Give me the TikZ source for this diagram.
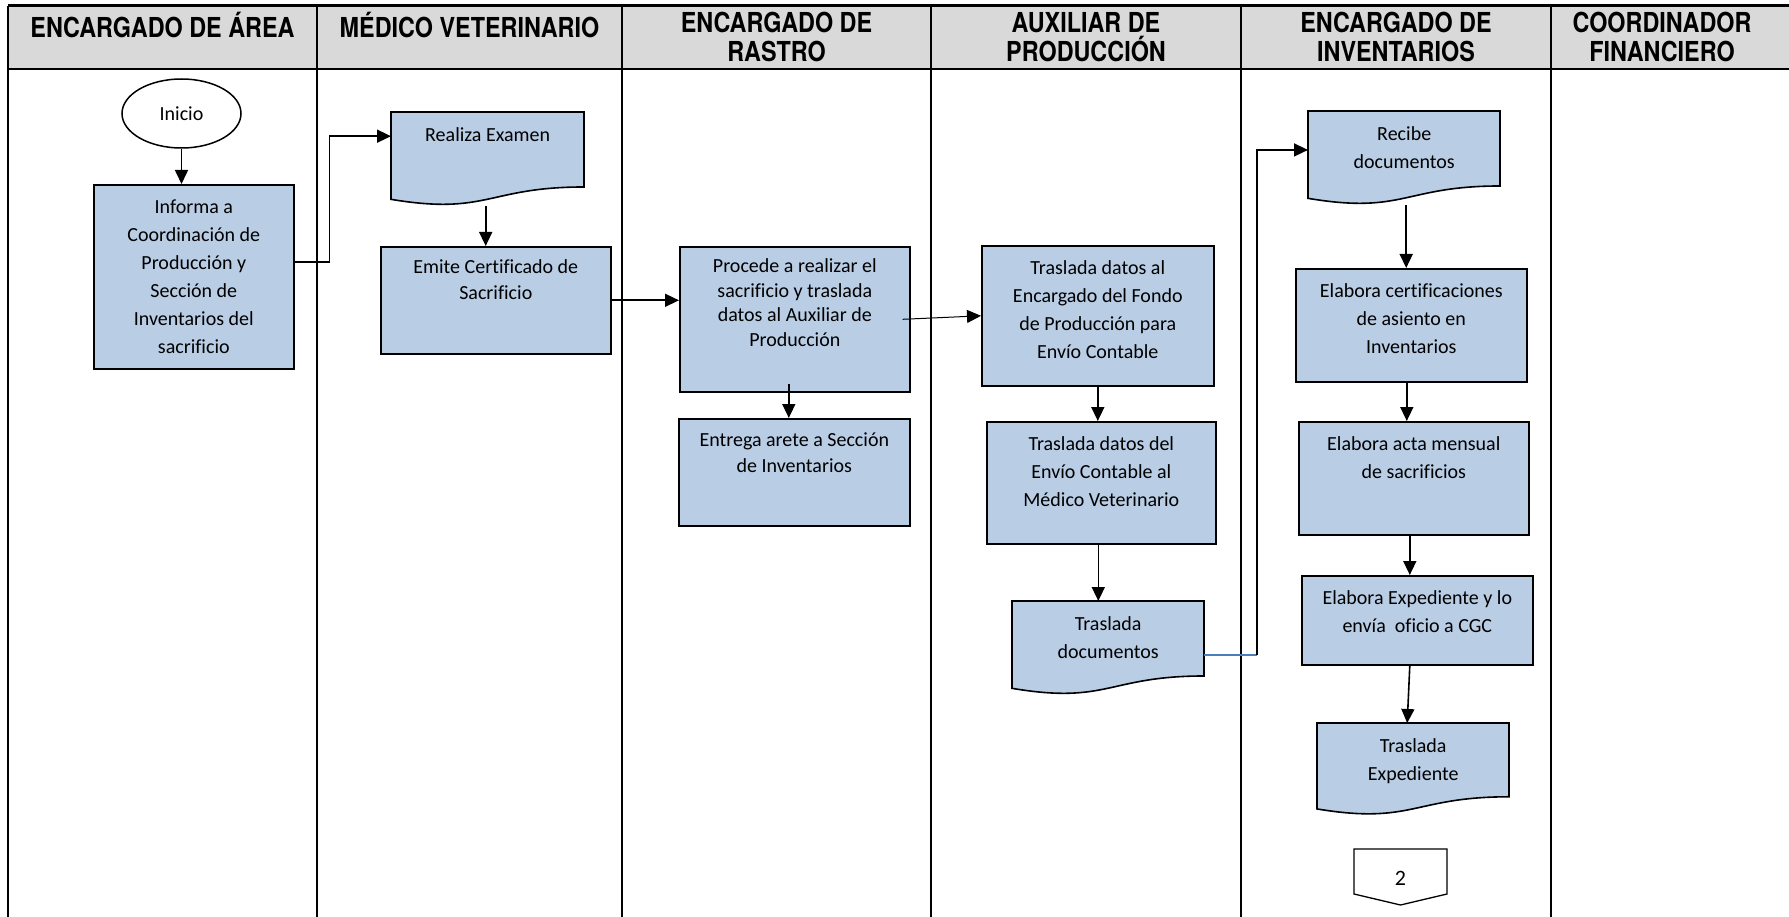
\documentclass[tikz,border=0pt]{standalone}
\usepackage{fontspec}
\setmainfont{Carlito}[Ligatures=NoCommon]
\newfontfamily\hdrfont[FakeStretch=0.85]{TeX Gyre Heros}
\usetikzlibrary{arrows.meta,calc,shapes.geometric}
\definecolor{boxblue}{HTML}{B9CDE5}
\definecolor{hdrgray}{HTML}{D9D9D9}
\definecolor{lnblue}{HTML}{4A7EBB}
\newcommand{\nolsk}{\lineskiplimit -100pt\relax}
\newcommand{\hdrsize}{\hdrfont\bfseries\fontsize{27.5}{29}\selectfont\nolsk}
\tikzset{
  box/.style={draw=black, line width=1.6pt, fill=boxblue, inner sep=0pt, anchor=north west},
  txt/.style={inner sep=0pt, anchor=north, align=center},
  arr/.style={line width=1.6pt, -{Triangle[length=14pt,width=13pt]}},
  thinarr/.style={line width=1pt, -{Triangle[length=14pt,width=13pt]}},
  blueln/.style={line width=1.6pt, draw=lnblue},
  lane/.style={line width=2pt},
  hdr/.style={font=\hdrsize, align=center, anchor=north, inner sep=0pt},
}
% name x y w h skip text
\newcommand{\pbox}[7]{%
  \node[box, minimum width=#4pt, minimum height=#5pt] (#1) at (#2,#3) {};
  \node[txt, font=\fontsize{20}{#6}\selectfont\nolsk] (#1-t) at ([yshift=-9.5pt]#1.north) {\strut #7};
}
\newcommand{\docnode}[7]{%
  \path[draw=black, line width=1.6pt, fill=boxblue, shift={(#2,#3)}]
    (0,0) -- (#4,0) -- (#4,{0.802*#5})
    .. controls ({0.5*#4},{0.802*#5}) and ({0.5*#4},{1.1075*#5}) .. (0,{0.934*#5}) -- cycle;
  \node[inner sep=0pt, minimum width=#4pt, minimum height=#5pt, anchor=north west] (#1) at (#2,#3) {};
  \node[txt, font=\fontsize{20}{#6}\selectfont\nolsk] (#1-t) at ([yshift=-9.5pt]#1.north) {\strut #7};
}
\begin{document}
\begin{tikzpicture}[x=1pt,y=-1pt]
\useasboundingbox (0,0) rectangle (1789,917);
% header
\fill[hdrgray] (8,6) rectangle (1789,69);
\draw[line width=3pt] (8,6) -- (1789,6);
\draw[line width=2pt] (8,69) -- (1789,69);
\draw[lane] (8,6) -- (8,917);
\foreach \xx in {317,622,931,1241,1551} \draw[lane] (\xx,6) -- (\xx,917);
\node[hdr] (h1) at (162.5,12) {\strut ENCARGADO DE ÁREA};
\node[hdr] (h2) at (469.5,12) {\strut MÉDICO VETERINARIO};
\node[hdr] (h3) at (776.5,12) {\strut ENCARGADO DE\\RASTRO};
\node[hdr] (h4) at (1086,12) {\strut AUXILIAR DE\\PRODUCCIÓN};
\node[hdr] (h5) at (1396,12) {\strut ENCARGADO DE\\INVENTARIOS};
\node[hdr] (h6) at (1662,12) {\strut COORDINADOR\\FINANCIERO};
% nodes
\node[draw, ellipse, line width=1.5pt, fill=white, minimum width=119pt, minimum height=69pt, inner sep=0pt, font=\fontsize{20}{24}\selectfont] (inicio) at (181.5,113.5) {Inicio};
\pbox{informa}{93}{184}{200}{184}{28}{Informa a\\Coordinación de\\Producción y\\Sección de\\Inventarios del\\sacrificio}
\docnode{realiza}{391}{112}{193}{93.5}{28}{Realiza Examen}
\pbox{emite}{380}{246}{230}{107}{26}{Emite Certificado de\\Sacrificio}
\pbox{procede}{679}{246}{230}{145}{24.5}{Procede a realizar el\\sacrificio y traslada\\datos al Auxiliar de\\Producción}
\pbox{entrega}{678}{418}{231}{107}{26.5}{Entrega arete a Sección\\de Inventarios}
\pbox{trasal}{981}{245}{232}{140}{28}{Traslada datos al\\Encargado del Fondo\\de Producción para\\Envío Contable}
\pbox{trasdel}{986}{421}{229}{122}{28}{Traslada datos del\\Envío Contable al\\Médico Veterinario}
\docnode{trasdoc}{1012}{601}{192}{93.5}{28}{Traslada\\documentos}
\docnode{recibe}{1308}{111}{192}{93.5}{28}{Recibe\\documentos}
\pbox{elcert}{1295}{268}{231}{113}{28}{Elabora certificaciones\\de asiento en\\Inventarios}
\pbox{acta}{1298}{421}{230}{113}{28}{Elabora acta mensual\\de sacrificios}
\pbox{expe}{1301}{575}{231}{89}{28}{Elabora Expediente y lo\\envía~ oficio a CGC}
\docnode{trasexp}{1317}{723}{192}{92}{28}{Traslada\\Expediente}
% off-page connector
\draw[line width=1.3pt, fill=white] (1354,849) -- (1447,849) -- (1447,894) -- (1400.5,905) -- (1354,894) -- cycle;
\node[inner sep=0pt, font=\fontsize{22}{26}\selectfont] (conn2) at (1400.5,878) {2};
% connectors
\coordinate (jx) at (1257,150);
\draw[arr] (inicio.south) -- (inicio.south |- informa.north);
\draw[arr] ([yshift=15pt]informa.east) -- ++(35,0) |- ([yshift=22.75pt]realiza.west);
\draw[arr] ([xshift=-2pt]realiza.south) -- ([xshift=-2pt]realiza.south |- emite.north);
\draw[arr] (emite.east) -- (emite.east -| procede.west);
\draw[thinarr] ([xshift=-8pt]procede.east) -- (trasal.west);
\draw[arr] ([xshift=-6pt,yshift=9pt]procede.south) -- ([xshift=-6pt]procede.south |- entrega.north);
\draw[arr] ([yshift=2pt]trasal.south) -- (trasal.south |- trasdel.north);
\draw[arr] ([xshift=-3pt]trasdel.south) -- ([xshift=-3pt]trasdel.south |- trasdoc.north);
\draw[blueln] ([yshift=-7pt]trasdoc.east) -- ([yshift=-7pt]trasdoc.east -| jx);
\draw[arr] ([yshift=-7pt]trasdoc.east -| jx) |- ([yshift=8pt]recibe.west);
\draw[arr] ([xshift=2pt]recibe.south) -- ([xshift=2pt]recibe.south |- elcert.north);
\draw[arr] ([xshift=-4.5pt]elcert.south) -- ([xshift=-4.5pt]elcert.south |- acta.north);
\draw[arr] ([xshift=-4pt]acta.south) -- ([xshift=-4pt]acta.south |- expe.north);
\draw[arr] ([xshift=-7.5pt]expe.south) -- ([xshift=-6pt]trasexp.north);
\end{tikzpicture}
\end{document}
